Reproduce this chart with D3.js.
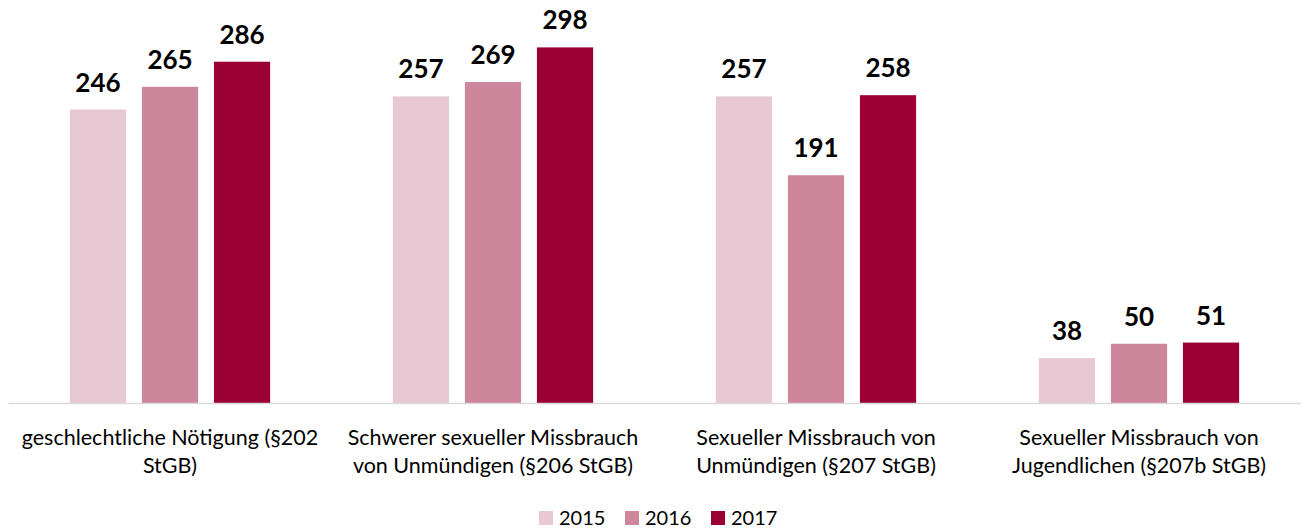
<!DOCTYPE html>
<html>
<head>
<meta charset="utf-8">
<script src="https://cdn.jsdelivr.net/npm/d3@7"></script>
<style>
  body { margin: 0; background: #fff; }
  svg { display: block; font-family: Lato, "Open Sans", sans-serif; }
</style>
</head>
<body>
<svg id="chart" width="1303" height="528"></svg>
<script>
const categories = [
  ["geschlechtliche Nötigung (§202", "StGB)"],
  ["Schwerer sexueller Missbrauch", "von Unmündigen (§206 StGB)"],
  ["Sexueller Missbrauch von", "Unmündigen (§207 StGB)"],
  ["Sexueller Missbrauch von", "Jugendlichen (§207b StGB)"]
];
const years = ["2015", "2016", "2017"];
const values2015 = [246, 257, 257, 38];
const values2016 = [265, 269, 191, 50];
const values2017 = [286, 298, 258, 51];
const colors = ["#e8c8d3", "#cd869c", "#9b0034"];

const series = [values2015, values2016, values2017];
const data = categories.map((c, i) => ({
  idx: i,
  values: years.map((yr, j) => ({ year: yr, value: series[j][i] }))
}));

const svg = d3.select("#chart");
const baseline = 403.5;

const x0 = d3.scaleBand().domain(d3.range(categories.length)).range([8.5, 1300.5]).padding(0);
const x1 = d3.scaleBand().domain(years)
  .range([x0.bandwidth() * 0.19, x0.bandwidth() * 0.81])
  .paddingInner(0.22).paddingOuter(0);
const y = d3.scaleLinear().domain([0, 300]).range([baseline, 45]);
const color = d3.scaleOrdinal().domain(years).range(colors);

const groups = svg.selectAll("g.group").data(data).join("g")
  .attr("class", "group")
  .attr("transform", d => `translate(${x0(d.idx)},0)`);

groups.selectAll("rect").data(d => d.values).join("rect")
  .attr("x", d => x1(d.year))
  .attr("width", x1.bandwidth())
  .attr("y", d => y(d.value))
  .attr("height", d => baseline - y(d.value))
  .attr("fill", d => color(d.year));

// value labels
groups.selectAll("text.val").data(d => d.values).join("text")
  .attr("class", "val")
  .attr("x", d => x1(d.year) + x1.bandwidth() / 2)
  .attr("y", d => y(d.value) - 18)
  .attr("text-anchor", "middle")
  .style("font-size", "26px")
  .style("font-weight", "bold")
  .attr("fill", "#000")
  .text(d => d.value);

// axis line
svg.append("line")
  .attr("x1", x0.range()[0]).attr("x2", x0.range()[1])
  .attr("y1", baseline).attr("y2", baseline)
  .attr("stroke", "#d9d9d9").attr("stroke-width", 1.5);

// category labels
groups.append("text")
  .attr("text-anchor", "middle")
  .style("font-size", "21.5px")
  .attr("fill", "#000")
  .selectAll("tspan").data(d => categories[d.idx]).join("tspan")
  .attr("x", x0.bandwidth() / 2)
  .attr("y", (d, i) => 445 + i * 28)
  .text(d => d);

// legend
const legendItems = [539, 625, 711];
const legend = svg.append("g");
const li = legend.selectAll("g").data(years).join("g")
  .attr("transform", (d, i) => `translate(${legendItems[i]},0)`);
li.append("rect").attr("x", 0).attr("y", 511).attr("width", 14).attr("height", 14)
  .attr("fill", d => color(d));
li.append("text").attr("x", 20).attr("y", 525)
  .style("font-size", "20px").attr("fill", "#000")
  .text(d => d);
</script>
</body>
</html>
